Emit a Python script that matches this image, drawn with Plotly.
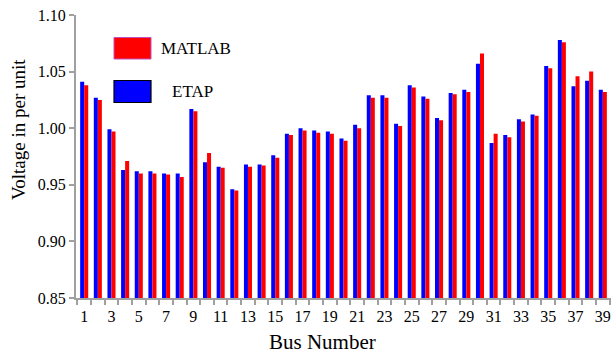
import plotly.graph_objects as go

# Bus voltages (p.u.) from two load-flow tools
buses = list(range(1, 40))
etap = [1.041, 1.027, 0.999, 0.963, 0.962, 0.962, 0.960, 0.960, 1.017, 0.970,
        0.966, 0.946, 0.968, 0.968, 0.976, 0.995, 1.000, 0.998, 0.997, 0.991,
        1.003, 1.029, 1.029, 1.004, 1.038, 1.028, 1.009, 1.031, 1.034, 1.057,
        0.987, 0.994, 1.008, 1.012, 1.055, 1.078, 1.037, 1.042, 1.034]
matlab = [1.038, 1.025, 0.997, 0.971, 0.960, 0.960, 0.959, 0.957, 1.015, 0.978,
          0.965, 0.945, 0.966, 0.967, 0.974, 0.994, 0.998, 0.996, 0.995, 0.989,
          1.000, 1.027, 1.027, 1.002, 1.036, 1.026, 1.007, 1.030, 1.032, 1.066,
          0.995, 0.992, 1.006, 1.011, 1.053, 1.076, 1.046, 1.050, 1.032]
xtick_labels = [str(b) for b in buses if b % 2 == 1]

FONT = "Liberation Serif"
W, H = 611, 354
L, R, T, B = 76, 0, 15, 56
PW, PH = W - L - R, H - T - B


def px(x):
    return (x - L) / PW


def py(y):
    return (H - B - y) / PH


fig = go.Figure()
fig.add_trace(go.Bar(x=buses, y=etap, name="ETAP", marker_color="#0000ff",
                     marker_line_width=0))
fig.add_trace(go.Bar(x=buses, y=matlab, name="MATLAB", marker_color="#ff0000",
                     marker_line_width=0))

# Legend drawn as boxes with labels
fig.add_shape(type="rect", xref="paper", yref="paper",
              x0=px(114), x1=px(151), y0=py(59), y1=py(37.5),
              fillcolor="#ff0000", line=dict(color="#c050c0", width=1))
fig.add_shape(type="rect", xref="paper", yref="paper",
              x0=px(114), x1=px(151), y0=py(102.5), y1=py(80.5),
              fillcolor="#0000ff", line=dict(color="#000000", width=1.2))
fig.add_annotation(xref="paper", yref="paper", x=px(159), y=py(49),
                   text="MATLAB", showarrow=False, xanchor="left", yanchor="middle",
                   font=dict(family=FONT, size=17, color="black"))
fig.add_annotation(xref="paper", yref="paper", x=px(170), y=py(91.5),
                   text="ETAP", showarrow=False, xanchor="left", yanchor="middle",
                   font=dict(family=FONT, size=17, color="black"))

# Axis titles
fig.add_annotation(xref="paper", yref="paper", x=px(322), y=py(342),
                   text="Bus Number", showarrow=False, xanchor="center", yanchor="middle",
                   font=dict(family=FONT, size=21, color="black"))
fig.add_annotation(xref="paper", yref="paper", x=px(18), y=py(130),
                   text="Voltage in per unit", showarrow=False, textangle=-90,
                   xanchor="center", yanchor="middle",
                   font=dict(family=FONT, size=19, color="black"))

axis_gray = "#a0a0a0"
fig.update_layout(
    width=W, height=H,
    margin=dict(l=L, r=R, t=T, b=B),
    paper_bgcolor="white", plot_bgcolor="white",
    barmode="group", bargap=0.41, bargroupgap=0,
    showlegend=False,
    font=dict(family=FONT, size=16, color="black"),
    xaxis=dict(
        range=[0.4, 39.6],
        tickmode="array",
        tickvals=[b for b in buses if b % 2 == 1],
        ticktext=xtick_labels,
        ticks="", ticklabelstandoff=3,
        minor=dict(tickmode="array", tickvals=[b - 0.5 for b in buses] + [39.5],
                   ticks="outside", ticklen=5, tickcolor=axis_gray, tickwidth=2),
        showline=True, linecolor=axis_gray, linewidth=2,
        showgrid=False, zeroline=False,
        tickfont=dict(family=FONT, size=16, color="black"),
    ),
    yaxis=dict(
        range=[0.85, 1.10],
        tickvals=[0.85, 0.90, 0.95, 1.00, 1.05, 1.10],
        ticktext=["0.85", "0.90", "0.95", "1.00", "1.05", "1.10"],
        ticks="outside", ticklen=5, tickcolor=axis_gray, tickwidth=2,
        showline=True, linecolor=axis_gray, linewidth=2,
        showgrid=False, zeroline=False,
        tickfont=dict(family=FONT, size=16, color="black"),
    ),
)

fig.write_html("out.html")
